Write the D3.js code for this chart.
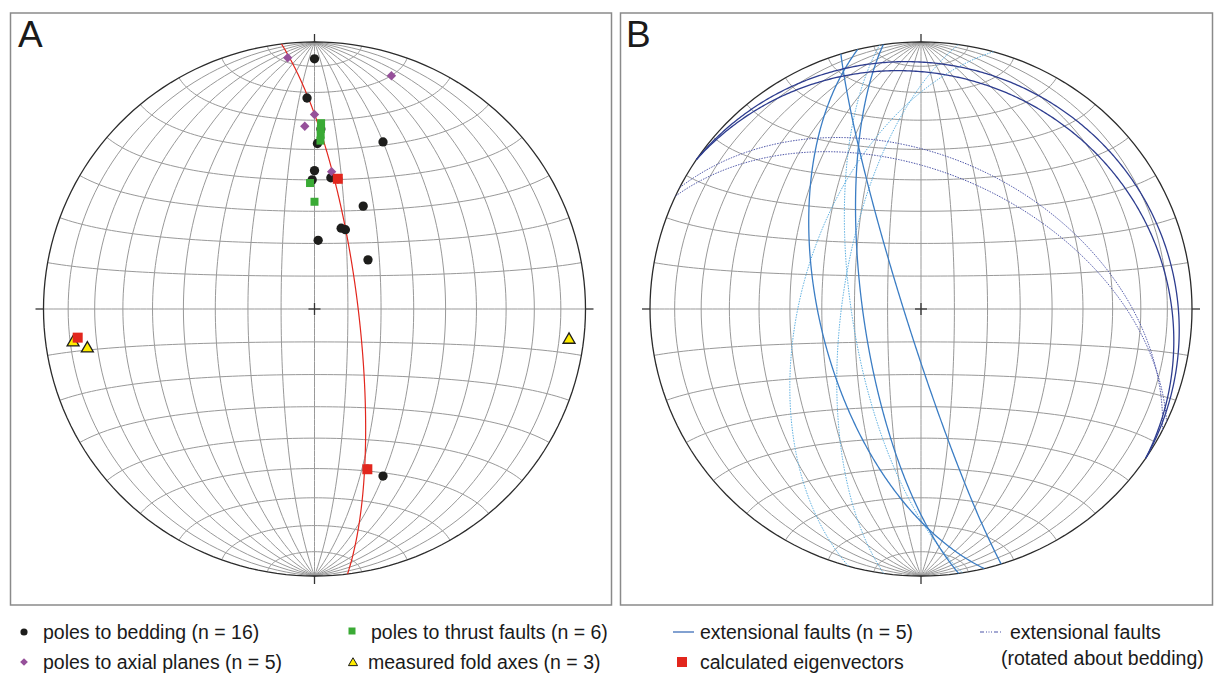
<!DOCTYPE html>
<html>
<head>
<meta charset="utf-8">
<script src="https://cdn.jsdelivr.net/npm/d3@7"></script>
<style>
body { margin: 0; background: #fff; }
svg { display: block; }
text { font-family: "Liberation Sans", Arial, sans-serif; fill: #1a1a1a; }
</style>
</head>
<body>
<svg id="chart" width="1215" height="673"></svg>
<script>
// lines as [trend, plunge], planes as [dip direction, dip]
const bedding = [[0,7],[358,22],[22,33],[1,38],[0,47],[359,50],[7,49],[25,55],[18,64],[21,64],[3,69],[47,68],[158,33],[10,49],[2,33],[162,37]];
const axialPoles = [[354,6],[18,9],[0,28],[357,32],[7,47]];
const thrustPoles = [[2,31],[2,33],[2,35],[2,37],[358,51],[0,57]];
const foldAxes = [[262,11],[260,16],[97,6]];
const eigenvectors = [[10,49],[263,13],[162,37]];
const girdle = [[83,77]];

const faultsShallow = [[34,10],[34,14.5]];
const faultsSteep = [[256.5,59.3],[262,72.6],[252.8,85]];
const rotatedShallow = [[27,43],[25,48]];
const rotatedSteep = [[285.5,53.5],[277.9,66.2],[261.2,69.2]];

const RX = 271, RY = 267;
const rad = Math.PI / 180;

const svg = d3.select("#chart");

function lineToLonLat(d) {
    const t = d[0] * rad, p = d[1] * rad;
    const n = Math.cos(p) * Math.cos(t), e = Math.cos(p) * Math.sin(t), dn = Math.sin(p);
    return [Math.atan2(e, dn) / rad, Math.asin(n) / rad];
}

function planeLine(d) {
    const pole = lineToLonLat([d[0] + 180, 90 - d[1]]);
    const ring = d3.geoCircle().center(pole).radius(90).precision(0.5)().coordinates[0];
    return {type: "LineString", coordinates: ring};
}

function makeNet(cx, cy) {
    const proj = d3.geoAzimuthalEqualArea()
        .scale(RY / Math.SQRT2)
        .translate([cx, cy])
        .clipAngle(90)
        .precision(0.2);
    const kx = RX / RY;
    const stretch = d3.geoTransform({
        point(x, y) { this.stream.point(cx + (x - cx) * kx, y); }
    });
    const path = d3.geoPath({stream: s => proj.stream(stretch.stream(s))});
    const pt = ll => { const p = proj(ll); return [cx + (p[0] - cx) * kx, p[1]]; };
    return {path, pt, cx, cy};
}

function drawGrid(net) {
    const g = svg.append("g");
    const meridians = d3.range(-80, 81, 10).map(lon => ({
        type: "LineString", coordinates: d3.range(-90, 90.1, 2).map(lat => [lon, lat])
    }));
    const parallels = d3.range(-80, 81, 10).map(lat => ({
        type: "LineString", coordinates: d3.range(-92, 92.1, 2).map(lon => [lon, lat])
    }));
    g.selectAll(".grat")
        .data(meridians.concat(parallels))
        .enter().append("path")
        .attr("d", net.path)
        .attr("fill", "none")
        .attr("stroke", "#999")
        .attr("stroke-width", 1);

    g.append("path")
        .attr("d", net.path({type: "Sphere"}))
        .attr("fill", "none")
        .attr("stroke", "#2b2b2b")
        .attr("stroke-width", 1.3);

    const cx = net.cx, cy = net.cy, t = 8;
    const ticks = [
        [cx, cy - RY - t, cx, cy - RY], [cx, cy + RY, cx, cy + RY + t],
        [cx - RX - t, cy, cx - RX, cy], [cx + RX, cy, cx + RX + t, cy],
        [cx - 6, cy, cx + 6, cy], [cx, cy - 6, cx, cy + 6]
    ];
    g.selectAll(".tick")
        .data(ticks)
        .enter().append("line")
        .attr("x1", d => d[0]).attr("y1", d => d[1])
        .attr("x2", d => d[2]).attr("y2", d => d[3])
        .attr("stroke", "#333")
        .attr("stroke-width", 1.3);
}

function drawPlanes(net, data, color, width, dash) {
    svg.append("g").selectAll("path")
        .data(data)
        .enter().append("path")
        .attr("d", d => net.path(planeLine(d)))
        .attr("fill", "none")
        .attr("stroke", color)
        .attr("stroke-width", width)
        .attr("stroke-dasharray", dash);
}

function drawPoints(net, data, type, size, fill, stroke, rot) {
    svg.append("g").selectAll("path")
        .data(data)
        .enter().append("path")
        .attr("d", d3.symbol().type(type).size(size))
        .attr("transform", d => {
            const p = net.pt(lineToLonLat(d));
            return `translate(${p[0]},${p[1]}) rotate(${rot || 0})`;
        })
        .attr("fill", fill)
        .attr("stroke", stroke || "none")
        .attr("stroke-width", 1.3);
}

// frames
svg.append("rect").attr("x", 10.5).attr("y", 13).attr("width", 601).attr("height", 592)
    .attr("fill", "none").attr("stroke", "#8a8a8a").attr("stroke-width", 1.5);
svg.append("rect").attr("x", 620.5).attr("y", 13).attr("width", 592).attr("height", 592)
    .attr("fill", "none").attr("stroke", "#8a8a8a").attr("stroke-width", 1.5);

svg.append("text").attr("x", 18).attr("y", 47).attr("font-size", "37px").text("A");
svg.append("text").attr("x", 626).attr("y", 47).attr("font-size", "37px").text("B");

// panel A
const netA = makeNet(314.5, 309);
drawGrid(netA);
drawPlanes(netA, girdle, "#e2261d", 1.2, null);
drawPoints(netA, bedding, d3.symbolCircle, 68, "#1d1d1b");
drawPoints(netA, axialPoles, d3.symbolSquare, 44, "#96509a", null, 45);
drawPoints(netA, thrustPoles, d3.symbolSquare, 64, "#3aaa35");
drawPoints(netA, foldAxes, d3.symbolTriangle, 62, "#ffec00", "#1d1d1b");
drawPoints(netA, eigenvectors, d3.symbolSquare, 100, "#e2261d");

// panel B
const netB = makeNet(921, 309);
drawGrid(netB);
drawPlanes(netB, rotatedSteep, "#5aaee0", 1, "1.5,1.2");
drawPlanes(netB, rotatedShallow, "#4d55a8", 1, "1.5,1.2");
drawPlanes(netB, faultsSteep, "#3b7dc4", 1.3, null);
drawPlanes(netB, faultsShallow, "#2e3d8f", 1.3, null);

// legend
const legend = svg.append("g").attr("font-size", "19.5px");
const legendText = [
    [43, 639, "poles to bedding (n = 16)"],
    [43, 669, "poles to axial planes (n = 5)"],
    [371, 639, "poles to thrust faults (n = 6)"],
    [368, 669, "measured fold axes (n = 3)"],
    [700, 639, "extensional faults (n = 5)"],
    [700, 669, "calculated eigenvectors"],
    [1010, 639, "extensional faults"],
    [1001, 665, "(rotated about bedding)"]
];
legend.selectAll("text").data(legendText).enter().append("text")
    .attr("x", d => d[0]).attr("y", d => d[1]).text(d => d[2]);

const legendMarks = [
    [24, 632, d3.symbolCircle, 40, "#1d1d1b", null, 0],
    [24, 662, d3.symbolSquare, 30, "#96509a", null, 45],
    [352, 631, d3.symbolSquare, 49, "#3aaa35", null, 0],
    [353, 663, d3.symbolTriangle, 36, "#ffec00", "#1d1d1b", 0],
    [682, 662, d3.symbolSquare, 100, "#e2261d", null, 0]
];
legend.selectAll(".mark").data(legendMarks).enter().append("path")
    .attr("d", d => d3.symbol().type(d[2]).size(d[3])())
    .attr("transform", d => `translate(${d[0]},${d[1]}) rotate(${d[6]})`)
    .attr("fill", d => d[4])
    .attr("stroke", d => d[5] || "none")
    .attr("stroke-width", 1);

legend.append("line").attr("x1", 673).attr("x2", 694).attr("y1", 632).attr("y2", 632)
    .attr("stroke", "#3f6fb8").attr("stroke-width", 1.3);
legend.append("line").attr("x1", 980).attr("x2", 1002).attr("y1", 632).attr("y2", 632)
    .attr("stroke", "#4d55a8").attr("stroke-width", 1.2)
    .attr("stroke-dasharray", "4,2,1,1.5,1,1.5,1,2");
</script>
</body>
</html>
